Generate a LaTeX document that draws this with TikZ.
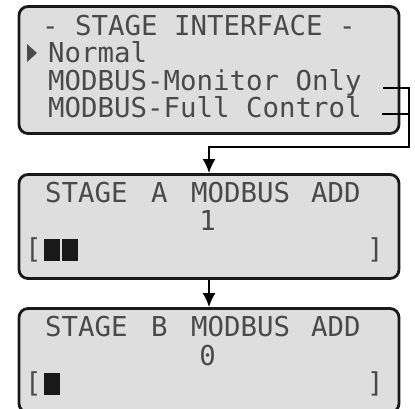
\documentclass[tikz,border=0pt]{standalone}
\usepackage{fontspec}
\newfontfamily\lcdfont{DejaVu Sans Mono}
\usetikzlibrary{positioning,arrows.meta}
\definecolor{lcdgray}{HTML}{DEDEDE}
\definecolor{lcdink}{HTML}{4A4A4A}

\begin{document}
\begin{tikzpicture}[
    x=1pt, y=-1pt,
    lcdbox/.style={draw=black!90, line width=2.8pt, fill=lcdgray, rounded corners=9pt, minimum width=380pt, minimum height=104pt, inner sep=0pt},
    lcd/.style={font=\lcdfont\fontsize{27.4}{30}\selectfont, text=lcdink, inner sep=0pt, anchor=base west},
    cell/.style={fill=black!90},
    wire/.style={line width=2pt},
    arrow/.style={-{Latex[length=14pt,width=13pt]}, line width=2pt},
  ]
  \clip (0,0) rectangle (415,408);

  % the three screens
  \node[lcdbox, minimum height=127pt] (menu) at (209,70) {};
  \node[lcdbox] (stageA) at (209,226.5) {};
  \node[lcdbox] (stageB) at (209,360.5) {};

  % menu screen
  \node[lcd] (title) at (42,35) {- STAGE INTERFACE -};
  \fill[lcdink] (27,44) -- (37,53) -- (27,62) -- cycle;
  \node[lcd] (normal) at (48,62.5) {Normal};
  \node[lcd] (monitor) at (48,90) {MODBUS-Monitor Only};
  \node[lcd] (full) at (48,117.5) {MODBUS-Full Control};

  % stage A screen
  \node[lcd] (aStage) at (45,202) {STAGE};
  \node[lcd] (aLetter) at (151,202) {A};
  \node[lcd] (aModbus) at (191,202) {MODBUS};
  \node[lcd] (aAdd) at (311,202) {ADD};
  \node[lcd, anchor=base] (aValue) at (207.5,230) {1};
  \node[lcd] (aOpen) at (25,258) {[};
  \node[lcd] (aClose) at (367,258) {]};
  \fill[cell] (44,239) rectangle (60,261);
  \fill[cell] (62,239) rectangle (78,261);

  % stage B screen
  \node[lcd] (bStage) at (45,336) {STAGE};
  \node[lcd] (bLetter) at (151,336) {B};
  \node[lcd] (bModbus) at (191,336) {MODBUS};
  \node[lcd] (bAdd) at (311,336) {ADD};
  \node[lcd, anchor=base] (bValue) at (207.5,365) {0};
  \node[lcd] (bOpen) at (25,392) {[};
  \node[lcd] (bClose) at (367,392) {]};
  \fill[cell] (44,373) rectangle (60,395);

  % connectors
  \coordinate (tapMonitor) at (383,88);
  \coordinate (tapFull) at (382,114);
  \coordinate (bend) at (409,147);
  \draw[wire] (tapFull) -- (tapFull -| bend);
  \draw[arrow] (tapMonitor) -| (bend) -| (stageA.north);
  \draw[arrow] (stageA.south) -- (stageB.north);
\end{tikzpicture}
\end{document}
